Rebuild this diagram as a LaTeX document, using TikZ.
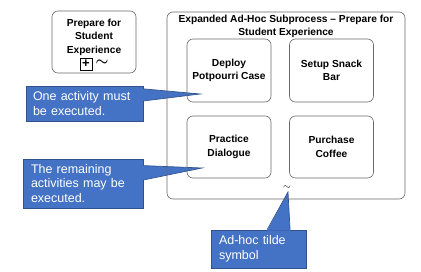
\documentclass[tikz,border=0pt]{standalone}
\usepackage{fontspec}
\setmainfont{Liberation Sans}
\usepackage{amsmath, amssymb}
\usetikzlibrary{calc}
\definecolor{noteblue}{RGB}{68,114,196}
\definecolor{noteline}{RGB}{47,82,143}
\definecolor{boxgray}{RGB}{105,105,105}

\begin{document}
\begin{tikzpicture}[x=1pt, y=-1pt,
    boxtext/.style={align=center, inner sep=0pt, font=\fontsize{10.2}{13.5}\selectfont\bfseries},
    task/.style={boxtext, draw=boxgray, line width=0.6pt, rounded corners=6pt, minimum width=84pt, minimum height=63pt},
    note/.style={fill=noteblue, draw=noteline, line width=0.7pt, text=white, align=left, inner sep=0pt, font=\fontsize{12.5}{14.5}\selectfont}]
    \useasboundingbox (0,0) rectangle (421,272);

    % callouts
    \node[note, minimum width=117pt, minimum height=35pt, text width=103pt] (one) at (84.5,103.5) {One activity must\\be executed.};
    \node[note, minimum width=120pt, minimum height=49pt, text width=104pt] (rest) at (83,183.5) {The remaining\\activities may be\\executed.};
    \node[note, minimum width=95pt, minimum height=38pt, text width=79pt] (tilde) at (258.5,249) {Ad-hoc tilde\\symbol};
    \coordinate (onetip) at (200,94);
    \coordinate (resttip) at (202,168);
    \coordinate (tildetip) at (288,192);
        % pointers
        \fill[noteblue] ($(one.north east)!0.09!(one.south east)+(-1,0)$) -- (onetip) -- ($(one.north east)!0.43!(one.south east)+(-1,0)$) -- cycle;
        \draw[noteline, line width=0.7pt] ($(one.north east)!0.09!(one.south east)$) -- (onetip) -- ($(one.north east)!0.43!(one.south east)$);
        \fill[noteblue] ($(rest.north east)!0.14!(rest.south east)+(-1,0)$) -- (resttip) -- ($(rest.north east)!0.43!(rest.south east)+(-1,0)$) -- cycle;
        \draw[noteline, line width=0.7pt] ($(rest.north east)!0.14!(rest.south east)$) -- (resttip) -- ($(rest.north east)!0.43!(rest.south east)$);
        \fill[noteblue] ($(tilde.north west)!0.59!(tilde.north east)+(0,1)$) -- (tildetip) -- ($(tilde.north west)!0.83!(tilde.north east)+(0,1)$) -- cycle;
        \draw[noteline, line width=0.7pt] ($(tilde.north west)!0.59!(tilde.north east)$) -- (tildetip) -- ($(tilde.north west)!0.83!(tilde.north east)$);

    % collapsed subprocess
    \node[task, minimum height=62pt] (prep) at (94,42) {};
    \node[boxtext] (preptext) at (94,37) {Prepare for\\Student\\Experience};
    \node[draw, line width=0.9pt, minimum size=12pt, inner sep=0pt, font=\fontsize{13}{13}\selectfont\bfseries] (plus) at (86,64) {+};
    \node[inner sep=0pt, font=\fontsize{14}{14}\selectfont] (preptilde) at (102,63) {$\boldsymbol{\sim}$};

    % expanded subprocess
    \node[task, minimum width=238pt, minimum height=187pt] (expanded) at (286,105.5) {};
    \node[boxtext] (exptitle) at (286,26.5) {Expanded Ad-Hoc Subprocess – Prepare for\\Student Experience};
        % activities
        \node[task] (deploy) at (229,70.5) {Deploy\\Potpourri Case};
        \node[task] (snack) at (331.5,70.5) {Setup Snack\\Bar};
        \node[task, minimum height=62pt] (dialogue) at (229,147) {Practice\\Dialogue};
        \node[task, minimum height=62pt] (coffee) at (331.5,147) {Purchase\\Coffee};
    \node[inner sep=0pt] (adhoc) at (287,188) {$\sim$};

\end{tikzpicture}
\end{document}
